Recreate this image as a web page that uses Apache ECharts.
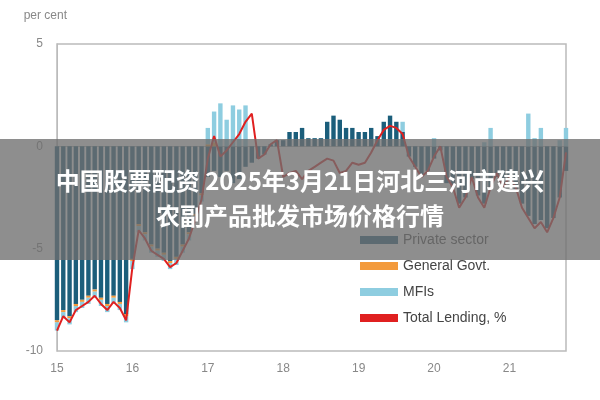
<!DOCTYPE html><html><head><meta charset="utf-8"><script src="https://cdn.jsdelivr.net/npm/echarts@6/dist/echarts.min.js"></script></head><body style="margin:0"><div id="c" style="width:600px;height:400px"></div><script>
const years=['15','16','17','18','19','20','21'];
const privateSector=[-8.5,-8,-8.3,-7.7,-7.5,-7.3,-7,-7.4,-7.7,-7.3,-7.6,-8.2,
-5.5,-3.8,-4.2,-4.8,-5,-5.2,-5.6,-5.4,-4.8,-4.2,-3.3,-2.3,
-1.5,-1.2,-1.5,-1.2,-1.8,-1.6,-1,-0.8,-0.6,-0.4,0.1,0.3,
0.3,0.7,0.7,0.9,0.4,0.4,0.4,1.2,1.5,1.3,0.9,0.9,
0.7,0.7,0.9,0.5,1.2,1.5,1.2,0.7,-0.5,-1,-1.5,-1.2,
-0.6,-0.2,-1.8,-2,-2.8,-2.5,-1.6,-2.4,-2.8,-2,-1.5,-2,
-1.6,-2.1,-2.8,-3.4,-3.8,-3.6,-4,-3.5,-2.5,-1.2];
const generalGovt=[-0.1,-0.1,-0.1,-0.1,-0.1,-0.1,-0.1,-0.1,-0.1,-0.1,-0.1,-0.1,
-0.1,-0.1,-0.1,-0.1,-0.1,-0.1,-0.1,-0.1,-0.1,-0.1,-0.1,-0.1,
0.1,0.2,0,0,0,0,0,0,0,0,0,0,0,0,0,0,0,0,0,0,0,0,0,0,0,0,0,0,0,0,0,0,0,0,0,0,0,0,0,0,0,0,0,0,0,0,0,0,0,0,0,0,0,0,0,0,0,0];
const mfis=[-0.4,-0.3,-0.3,-0.3,-0.3,-0.3,-0.3,-0.3,-0.3,-0.3,-0.3,-0.3,
-0.4,-0.3,-0.3,-0.3,-0.3,-0.3,-0.3,-0.3,-0.3,-0.3,-0.3,-0.3,
0.8,1.5,2.1,1.3,2,1.8,2,0,0,0,0,0,
0,0,0,0,0,0,0,0,0,0,0,0,
0,0,0,0,0,0,0,0.5,0,0,0,0,
0.4,0,0,0,0,0,0,0,0.2,0.9,0,0,
0,0,0,1.6,0.4,0.9,0,0,0.3,0.9];
const totalLending=[-9,-8.3,-8.6,-8,-7.8,-7.6,-7.3,-7.7,-8,-7.6,-7.9,-8.5,
-5.9,-4.1,-4.5,-5.1,-5.3,-5.5,-5.9,-5.7,-5.1,-4.5,-3.6,-2.6,
-0.6,0.5,-0.5,-0.2,0.2,0.6,1.2,1.6,-0.6,-0.4,0.1,0.3,
-1.5,-1.3,-1.2,-1.6,-1.2,-1,-0.8,-0.6,-0.7,-1.3,-1.2,-0.8,
-0.9,-0.8,-0.3,0.3,0.8,1,0.9,0.6,-0.5,-1,-1.5,-1.2,
-0.5,0,-1.5,-2,-3,-2.5,-1.5,-2.5,-3,-2,-1.3,-2,
-1.5,-2,-3,-3.5,-4,-3.7,-4.2,-3.5,-2.5,-0.3];
const cats=privateSector.map((_,i)=>i%12===0?years[i/12]:'');
const ch=echarts.init(document.getElementById('c'));
const g='#888';
ch.setOption({animation:false,
grid:{left:57,right:34,top:44,bottom:49,show:true,borderColor:'#bbb',borderWidth:1.5},
xAxis:{type:'category',data:cats,boundaryGap:false,axisTick:{show:false},axisLine:{lineStyle:{color:'#bbb'}},
 axisLabel:{interval:0,color:g,fontSize:12,fontFamily:'Liberation Sans',margin:12}},
yAxis:{type:'value',min:-10,max:5,interval:5,splitLine:{show:false},axisLine:{show:true,lineStyle:{color:'#bbb'}},
 axisLabel:{color:g,fontSize:12,fontFamily:'Liberation Sans',margin:14},
 name:'per cent',nameLocation:'end',nameGap:22,nameTextStyle:{color:g,fontSize:12,align:'right',padding:[0,-10,0,0]}},
legend:{orient:'vertical',left:355,top:228,itemGap:12,itemWidth:38,itemHeight:8,textStyle:{color:'#444',fontSize:14,fontFamily:'Liberation Sans'},
 data:[{name:'Private sector',icon:'rect'},{name:'General Govt.',icon:'rect'},{name:'MFIs',icon:'rect'},{name:'Total Lending, %',icon:'rect',itemStyle:{color:'#e02020'}}]},
series:[
{name:'Private sector',type:'bar',stack:'a',data:privateSector,barWidth:'70%',itemStyle:{color:'#1b5e7b'}},
{name:'General Govt.',type:'bar',stack:'a',data:generalGovt,itemStyle:{color:'#f39a3c'}},
{name:'MFIs',type:'bar',stack:'a',data:mfis,itemStyle:{color:'#8ecde0'}},
{name:'Total Lending, %',type:'line',data:totalLending,symbol:'none',lineStyle:{color:'#e02020',width:2},itemStyle:{color:'#e02020'},z:5}
],
graphic:[{type:'rect',shape:{x:0,y:139,width:600,height:121},style:{fill:'rgba(110,110,110,0.78)'},z:100},
{type:'text',left:'center',top:169,style:{text:'中国股票配资 2025年3月21日河北三河市建兴',fill:'#fff',font:'bold 24px "Noto Sans CJK SC"'},z:101},
{type:'text',left:'center',top:204,style:{text:'农副产品批发市场价格行情',fill:'#fff',font:'bold 24px "Noto Sans CJK SC"'},z:101}]
});
</script></body></html>
